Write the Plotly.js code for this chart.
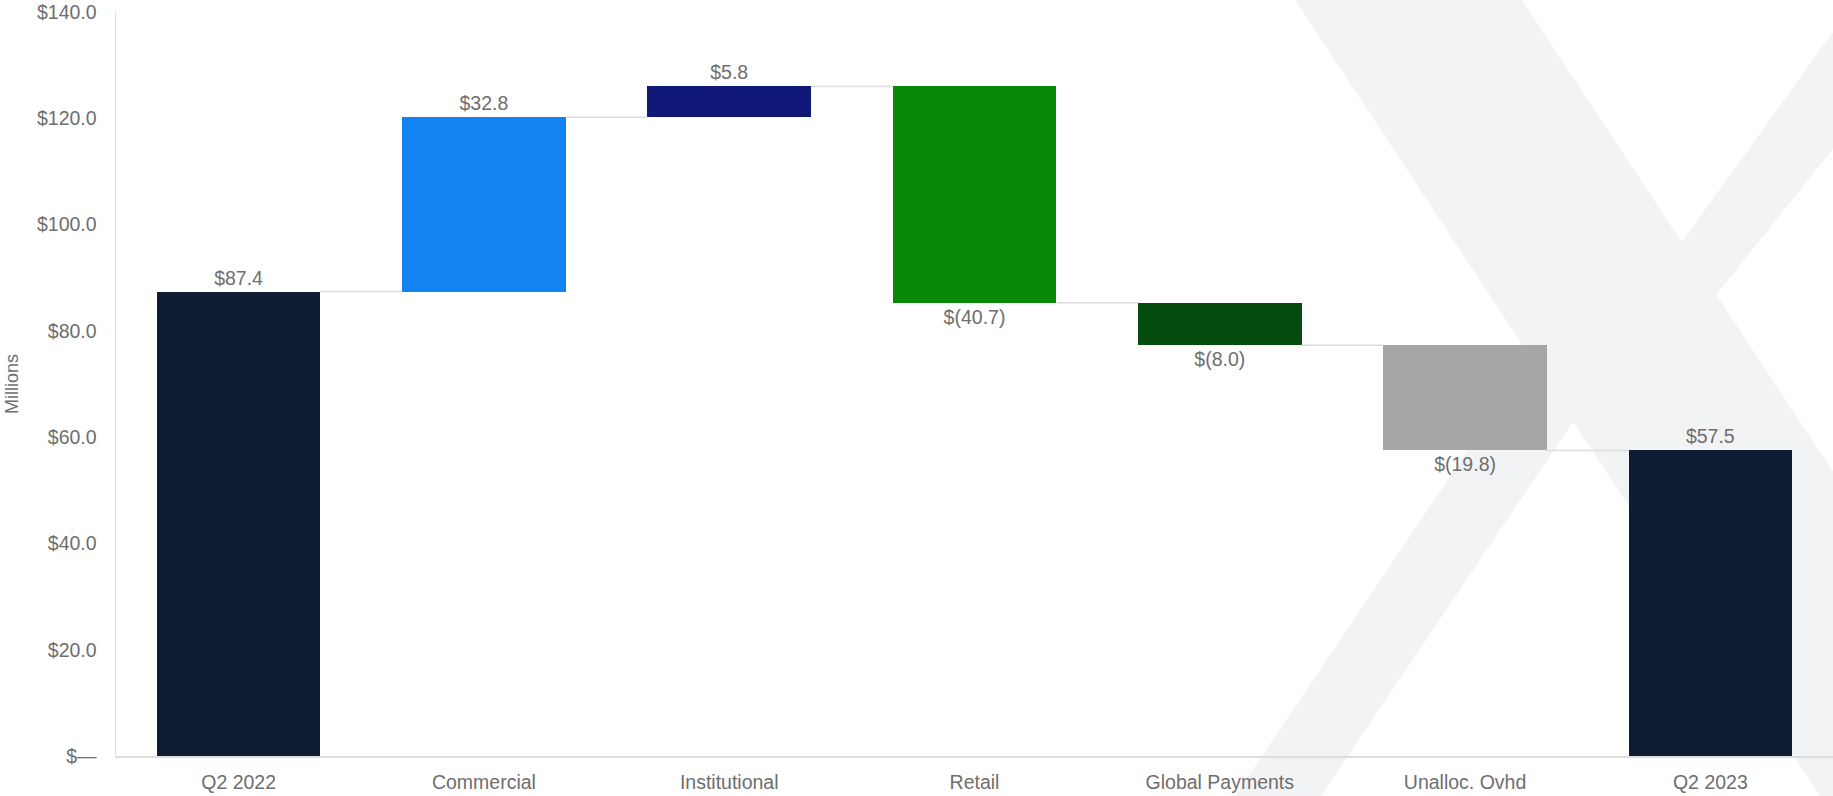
<!DOCTYPE html>
<html>
<head>
<meta charset="utf-8">
<script src="https://cdn.plot.ly/plotly-3.0.1.min.js"></script>
<style>
  html, body { margin: 0; padding: 0; background: #ffffff; }
  #chart { width: 1833px; height: 796px; }
</style>
</head>
<body>
<div id="chart"></div>
<script>
// ---- data ----
const categories = ["Q2 2022", "Commercial", "Institutional", "Retail", "Global Payments", "Unalloc. Ovhd", "Q2 2023"];
const changes = [87.4, 32.8, 5.8, -40.7, -8.0, -19.8, 57.5];
const measures = ["absolute", "relative", "relative", "relative", "relative", "relative", "total"];
const barColors = ["#0f1d32", "#1383f2", "#0f1876", "#088a08", "#044b0e", "#a6a6a6", "#0f1d32"];
const yTickValues = [0, 20, 40, 60, 80, 100, 120, 140];

// ---- derived waterfall geometry (from data) ----
const xIdx = categories.map((_, i) => i);
const bases = [];
const ends = [];
let running = 0;
changes.forEach((v, i) => {
  if (measures[i] === "absolute" || measures[i] === "total") {
    bases.push(0); running = v; ends.push(v);
  } else {
    bases.push(running); running += v; ends.push(running);
  }
});
const fmt = v => v < 0 ? "$(" + Math.abs(v).toFixed(1) + ")" : "$" + v.toFixed(1);
const labels = changes.map(fmt);
const yTickText = yTickValues.map(v => v === 0 ? "$\u2014" : "$" + v.toFixed(1));

const barWidth = 0.667;
const cx = [], cy = [];
for (let i = 0; i < categories.length - 1; i++) {
  cx.push(xIdx[i] + barWidth / 2, xIdx[i + 1] - barWidth / 2, null);
  cy.push(ends[i], ends[i], null);
}

const FONT = "Liberation Sans, Arial, Helvetica, sans-serif";
const GREY = "#6e6e6e";

const traces = [
  {
    type: "scatter", mode: "lines", x: cx, y: cy,
    line: { color: "#dcdcdc", width: 1.5 }, hoverinfo: "skip", showlegend: false
  },
  {
    type: "bar", x: xIdx, y: changes, base: bases, width: barWidth,
    marker: { color: barColors, line: { width: 0 } },
    text: labels, textposition: "outside", cliponaxis: false,
    textfont: { family: FONT, size: 19.5, color: GREY },
    showlegend: false
  }
];

// ---- background watermark "X" (decorative, pixel geometry -> paper) ----
const L = 116, R = 1833, T = 12, B = 756;
const px = x => ((x - L) / (R - L)).toFixed(4);
const py = y => ((B - y) / (B - T)).toFixed(4);
const poly = pts => "M" + pts.map(p => px(p[0]) + "," + py(p[1])).join(" L") + " Z";
const wm = "#f2f3f5";
const shapes = [
  [[1295, 0], [1522, 0], [2047, 796], [1820, 796]],
  [[1640, 300], [1856, 0], [1952, 0], [1680, 340]],
  [[1542, 340], [1601, 380], [1321, 796], [1235, 796]]
].map(p => ({
  type: "path", xref: "paper", yref: "paper", path: poly(p),
  fillcolor: wm, line: { width: 0 }, layer: "below"
}));

const layout = {
  width: 1833, height: 796,
  margin: { l: L, r: 1833 - R, t: T, b: 796 - B },
  paper_bgcolor: "#ffffff", plot_bgcolor: "rgba(0,0,0,0)",
  font: { family: FONT, color: GREY },
  showlegend: false,
  bargap: 0,
  shapes: shapes,
  xaxis: {
    range: [-0.5, 6.5], tickvals: xIdx, ticktext: categories,
    showgrid: false, zeroline: false, showline: true, linecolor: "#dedede", linewidth: 1.5,
    ticks: "", ticklabelstandoff: 8, automargin: false,
    tickfont: { family: FONT, size: 19.5, color: GREY }, fixedrange: true
  },
  yaxis: {
    range: [0, 140], tickvals: yTickValues, ticktext: yTickText,
    showgrid: false, zeroline: false, showline: true, linecolor: "#dedede", linewidth: 1.5,
    ticks: "", ticklabelstandoff: 14, automargin: true,
    tickfont: { family: FONT, size: 19.5, color: GREY },
    title: { text: "Millions", standoff: 13, font: { family: FONT, size: 18, color: GREY } },
    fixedrange: true
  }
};

Plotly.newPlot("chart", traces, layout, { displayModeBar: false, staticPlot: true });
</script>
</body>
</html>
